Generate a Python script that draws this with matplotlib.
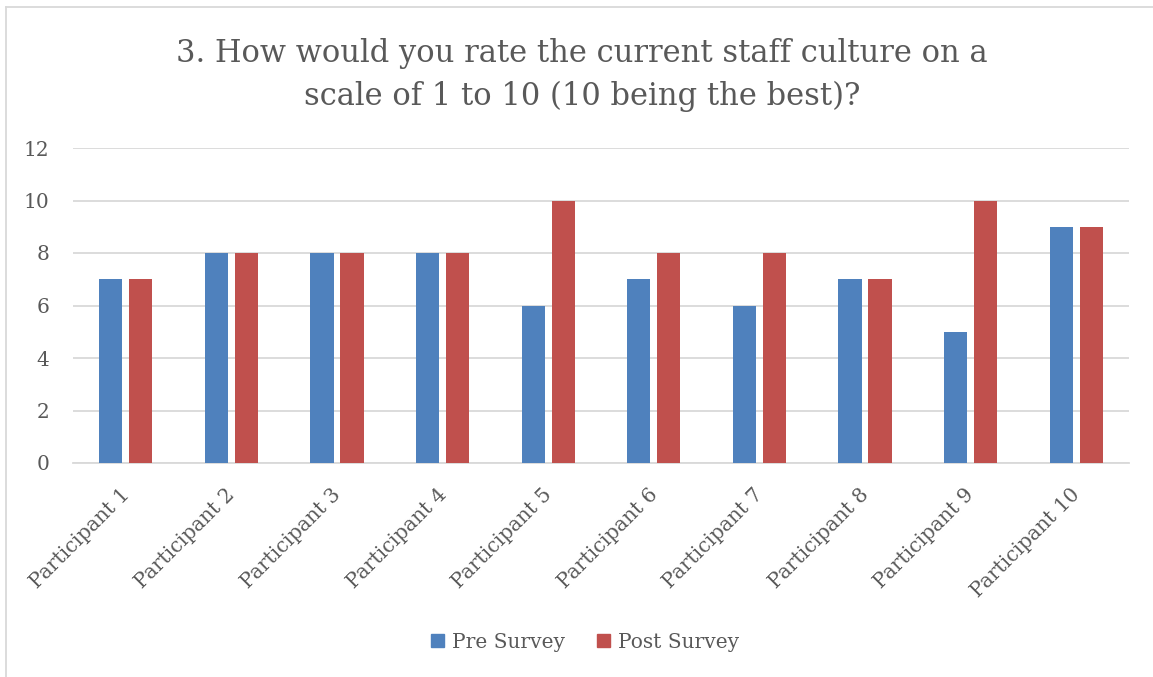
import matplotlib
matplotlib.use("Agg")
import matplotlib.pyplot as plt
import numpy as np
from matplotlib.patches import Rectangle
from matplotlib.lines import Line2D
from matplotlib.transforms import ScaledTranslation

categories = ["Participant 1", "Participant 2", "Participant 3", "Participant 4",
              "Participant 5", "Participant 6", "Participant 7", "Participant 8",
              "Participant 9", "Participant 10"]
pre_survey = [7, 8, 8, 8, 6, 7, 6, 7, 5, 9]
post_survey = [7, 8, 8, 8, 10, 8, 8, 7, 10, 9]
series_names = ["Pre Survey", "Post Survey"]
y_ticks = [0, 2, 4, 6, 8, 10, 12]
title = "3. How would you rate the current staff culture on a\nscale of 1 to 10 (10 being the best)?"

BLUE = "#4F81BD"
RED = "#C0504D"
TEXT = "#595959"
GRID = "#D9D9D9"
FONT = "DejaVu Serif"

plt.rcParams["font.family"] = FONT

fig = plt.figure(figsize=(11.53, 6.77), dpi=100)
ax = fig.add_axes([73 / 1153, 1 - 463 / 677, (1129 - 73) / 1153, (463 - 148) / 677])

x = np.arange(len(categories))
width = 0.22
offset = 0.142
ax.bar(x - offset, pre_survey, width, color=BLUE, label=series_names[0], zorder=3)
ax.bar(x + offset, post_survey, width, color=RED, label=series_names[1], zorder=3)

ax.set_xlim(-0.5, len(categories) - 0.5)
ax.set_ylim(0, 12)
ax.set_yticks(y_ticks)
ax.set_yticklabels([str(t) for t in y_ticks], fontsize=14.5, color=TEXT)
ax.yaxis.grid(True, color=GRID, linewidth=1.3, zorder=0)
ax.set_axisbelow(True)
ax.tick_params(axis="y", length=0, pad=17)
ax.tick_params(axis="x", length=0, pad=16)
ax.set_xticks(x)
ax.set_xticklabels(categories, rotation=45, ha="right", rotation_mode="anchor",
                   fontsize=14.5, color=TEXT)
shift = ScaledTranslation(-6 / 100, 0, fig.dpi_scale_trans)
for lbl in ax.get_xticklabels():
    lbl.set_transform(lbl.get_transform() + shift)
for s in ["top", "right", "left"]:
    ax.spines[s].set_visible(False)
ax.spines["bottom"].set_color(GRID)
ax.spines["bottom"].set_linewidth(1.3)

fig.text(582 / 1153, 1 - 75 / 677, title, ha="center", va="center",
         fontsize=22, color=TEXT, linespacing=1.45)

# Legend
handles = [Rectangle((0, 0), 1, 1, color=BLUE), Rectangle((0, 0), 1, 1, color=RED)]
fig.legend(handles, series_names, loc="center", bbox_to_anchor=(585 / 1153, 1 - 642 / 677),
           ncol=2, frameon=False, fontsize=14.5, labelcolor=TEXT,
           handlelength=0.65, handleheight=0.65, handletextpad=0.4, columnspacing=1.6)

# Chart area border (left and top edges)
fig.add_artist(Line2D([6 / 1153, 6 / 1153], [0, 1 - 7 / 677], transform=fig.transFigure,
                      color=GRID, linewidth=1.3))
fig.add_artist(Line2D([6 / 1153, 1], [1 - 7 / 677, 1 - 7 / 677], transform=fig.transFigure,
                      color=GRID, linewidth=1.3))

fig.savefig("out.png", dpi=100, facecolor="white")
